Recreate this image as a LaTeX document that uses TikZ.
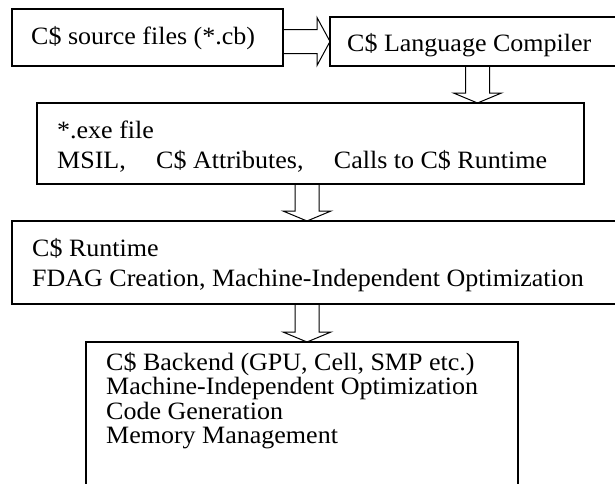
\documentclass[tikz,border=0pt]{standalone}
\usepackage{fontspec}
\setmainfont{Liberation Serif}
\usetikzlibrary{calc}
\newcommand\sq[1]{\scalebox{1}[0.96]{#1}}
\begin{document}
\begin{tikzpicture}[x=1pt,y=-1pt,
  box/.style={draw,line width=1.2pt,rectangle,inner sep=0pt,outer sep=0pt},
  txt/.style={anchor=base west,inner sep=0pt,font=\fontsize{26}{30}\selectfont},
  blk/.style={draw,line width=1pt,line join=miter}]
\clip (0,0) rectangle (615,483);
% boxes
\node[box,minimum width=271pt,minimum height=57pt] (b1) at (147.5,37.5) {};
\node[box,minimum width=295pt,minimum height=49pt] (b2) at (477.5,41.5) {};
\node[box,minimum width=547pt,minimum height=81pt] (b3) at (310.5,143.5) {};
\node[box,minimum width=613pt,minimum height=83pt] (b4) at (318.5,262.5) {};
\node[box,minimum width=432pt,minimum height=153pt] (b5) at (302,418.5) {};
% texts
\node[txt] (t1) at (31,44) {\sq{C\$ source files (*.cb)}};
\node[txt] (t2) at (347,51) {\sq{C\$ Language Compiler}};
\node[txt] (t3a) at (57,138) {\sq{*.exe file}};
\node[txt] (t3b) at (57,168) {\sq{MSIL,\hspace{1.17em}C\$ Attributes,\hspace{1.17em}Calls to C\$ Runtime}};
\node[txt] (t4a) at (32,256) {\sq{C\$ Runtime}};
\node[txt] (t4b) at (32,286) {\sq{FDAG Creation, Machine-Independent Optimization}};
\node[txt] (t5a) at (106,370) {\sq{C\$ Backend (GPU, Cell, SMP etc.)}};
\node[txt] (t5b) at (106,394.5) {\sq{Machine-Independent Optimization}};
\node[txt] (t5c) at (106,419) {\sq{Code Generation}};
\node[txt] (t5d) at (106,443.5) {\sq{Memory Management}};
% block arrows
\newcommand\downarr[2]{\draw[blk] ($(#1)+(-12,0)$) -- ($(#1|-#2)+(-12,-10)$) -- ++(-12,0) -- (#1|-#2) -- ($(#1|-#2)+(24,-10)$) -- ++(-12,0) -- ($(#1)+(12,0)$);}
\draw[blk] ($(b1.east|-b2.west)+(0,-12)$) -- ($(b2.west)+(-13,-12)$) -- ($(b2.west)+(-13,-24)$) -- (b2.west) -- ($(b2.west)+(-13,24)$) -- ($(b2.west)+(-13,12)$) -- ($(b1.east|-b2.west)+(0,12)$);
\coordinate (a2s) at (b2.south);
\path (b3.south) ++(-3.5,0) coordinate (a3s);
\path (b4.south) ++(-11.5,0) coordinate (a4s);
\downarr{a2s}{b3.north}
\downarr{a3s}{b4.north}
\downarr{a4s}{b5.north}
\end{tikzpicture}
\end{document}
